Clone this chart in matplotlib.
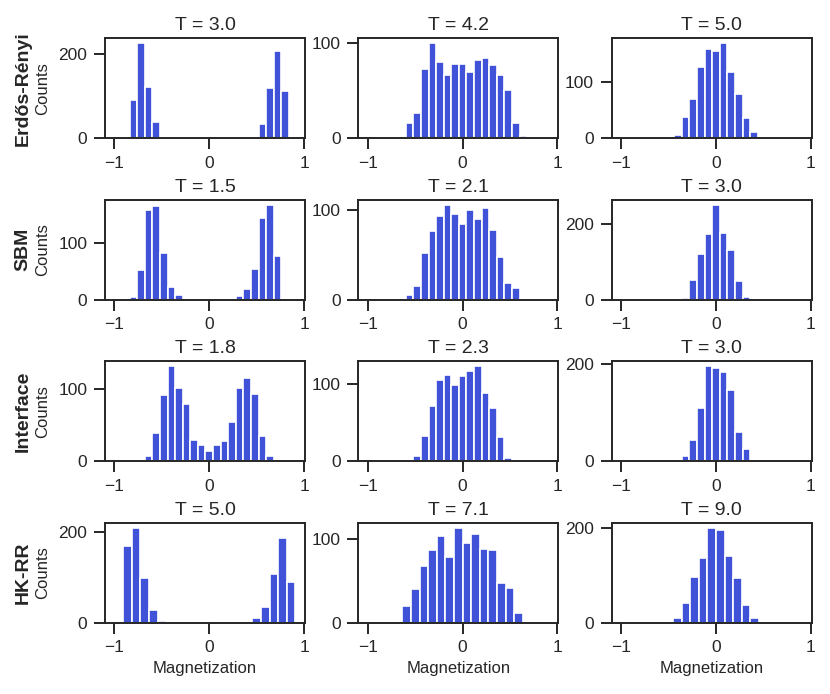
import numpy as np
import matplotlib
matplotlib.use("Agg")
import matplotlib.pyplot as plt
from matplotlib.ticker import MultipleLocator

plt.rcParams['font.family'] = ['Liberation Sans', 'DejaVu Sans']
plt.rcParams['text.color'] = '#262626'
plt.rcParams['axes.labelcolor'] = '#262626'
plt.rcParams['xtick.color'] = '#262626'
plt.rcParams['ytick.color'] = '#262626'

# Rows: graph type, columns: three temperatures
row_names = ["Erdős-Rényi", "SBM", "Interface", "HK-RR"]
temps = [
    [3.0, 4.2, 5.0],
    [1.5, 2.1, 3.0],
    [1.8, 2.3, 3.0],
    [5.0, 7.1, 9.0],
]

# number of histogram bins over [-1, 1] for each row
n_bins = [25, 25, 25, 22]

# counts per bin
counts_er = [
    [0, 2, 91, 226, 121, 37, 0, 0, 0, 0, 0, 0, 0, 0, 0, 0, 0, 0, 0, 33, 120, 206, 112, 0, 0],
    [0, 0, 0, 0, 1, 16, 26, 73, 100, 80, 66, 78, 78, 70, 82, 84, 77, 66, 51, 16, 2, 0, 0, 0, 0],
    [0, 0, 0, 0, 0, 0, 0, 5, 37, 70, 127, 159, 156, 170, 118, 79, 36, 11, 0, 0, 0, 0, 0, 0, 0],
]
counts_sbm = [
    [0, 0, 5, 52, 157, 165, 82, 23, 8, 0, 0, 0, 0, 0, 0, 0, 7, 19, 54, 144, 167, 76, 0, 0, 0],
    [0, 0, 0, 0, 0, 5, 15, 52, 77, 93, 106, 95, 84, 100, 90, 102, 78, 48, 18, 13, 1, 0, 0, 0, 0],
    [0, 0, 0, 0, 0, 0, 0, 0, 3, 51, 121, 173, 251, 175, 130, 49, 6, 0, 0, 0, 0, 0, 0, 0, 0],
]
counts_interface = [
    [0, 0, 0, 0, 7, 39, 92, 132, 102, 79, 30, 22, 14, 23, 28, 55, 102, 115, 93, 35, 7, 0, 0, 0, 0],
    [0, 0, 0, 0, 0, 0, 7, 33, 71, 105, 111, 99, 110, 117, 123, 88, 69, 31, 4, 0, 0, 0, 0, 0, 0],
    [0, 0, 0, 0, 0, 0, 0, 1, 11, 44, 109, 196, 192, 184, 146, 60, 25, 0, 0, 0, 0, 0, 0, 0, 0],
]
counts_hkrr = [
    [0, 169, 210, 99, 28, 4, 0, 0, 1, 0, 0, 0, 0, 0, 0, 0, 10, 34, 107, 187, 89, 0],
    [0, 0, 0, 0, 20, 40, 67, 87, 103, 78, 113, 95, 105, 88, 86, 47, 41, 12, 0, 0, 0, 0],
    [0, 0, 0, 0, 0, 0, 11, 41, 97, 136, 201, 196, 142, 94, 37, 10, 0, 0, 0, 0, 0, 0],
]
all_counts = [counts_er, counts_sbm, counts_interface, counts_hkrr]

bar_color = '#4052d8'

fig, axes = plt.subplots(4, 3, figsize=(8.3, 6.94), dpi=100)
fig.subplots_adjust(left=0.1265, right=0.978, bottom=0.1027, top=0.9448,
                    wspace=0.267, hspace=0.62)

for r in range(4):
    edges = np.linspace(-1, 1, n_bins[r] + 1)
    centers = (edges[:-1] + edges[1:]) / 2
    width = edges[1] - edges[0]
    for c in range(3):
        ax = axes[r, c]
        counts = all_counts[r][c]
        ax.bar(centers, counts, width=width, color=bar_color,
               edgecolor='white', linewidth=1.2)
        ax.set_xlim(-1.1, 1.01)
        ax.set_xticks([-1, 0, 1])
        # only two y ticks per panel
        ax.yaxis.set_major_locator(MultipleLocator(200 if max(counts) > 190 else 100))
        ax.set_title(f"T = {temps[r][c]:.1f}", fontsize=14, pad=6)
        ax.tick_params(labelsize=12.5, length=7.7, width=1.4, pad=5,
                       top=False, right=False)
        for s in ax.spines.values():
            s.set_linewidth(1.4)
            s.set_color('#262626')
        if c == 0:
            ax.set_ylabel("Counts", fontsize=12)
            ax.yaxis.set_label_coords(-0.275, 0.5)
            ax.text(-0.41, 0.5, row_names[r], transform=ax.transAxes,
                    rotation=90, ha='center', va='center',
                    fontsize=14, fontweight='bold')
        if r == 3:
            ax.set_xlabel("Magnetization", fontsize=12)

fig.savefig("out.png", dpi=100)
